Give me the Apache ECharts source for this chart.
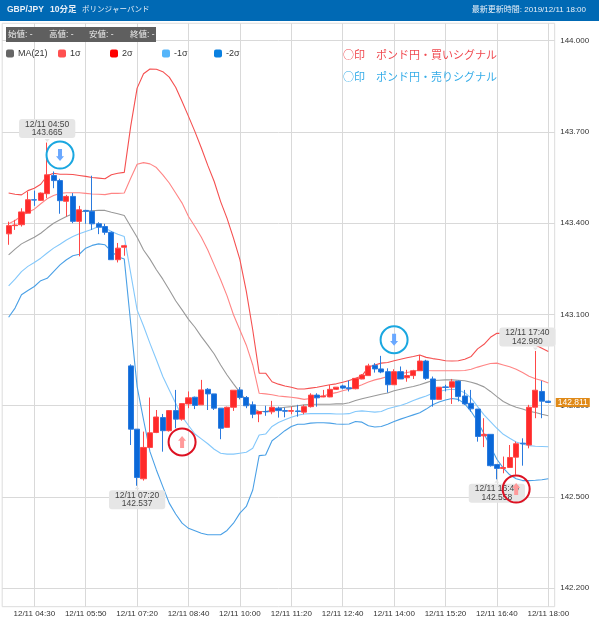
<!DOCTYPE html>
<html><head><meta charset="utf-8">
<style>html,body{margin:0;padding:0;background:#fff}#c{width:599px;height:619px}</style>
<script src="https://cdn.jsdelivr.net/npm/echarts@6/dist/echarts.min.js"></script>
</head><body><div id="c"></div>
<script>
const timeList=['03:50','04:00','04:10','04:20','04:30','04:40','04:50','05:00','05:10','05:20','05:30','05:40','05:50','06:00','06:10','06:20','06:30','06:40','06:50','07:10','07:20','07:30','07:40','07:50','08:00','08:10','08:20','08:30','08:40','08:50','09:00','09:10','09:20','09:30','09:40','09:50','10:00','10:10','10:20','10:30','10:40','10:50','11:00','11:10','11:20','11:30','11:40','11:50','12:00','12:10','12:20','12:30','12:40','12:50','13:00','13:10','13:20','13:30','13:40','13:50','14:00','14:10','14:20','14:30','14:40','14:50','15:00','15:10','15:20','15:30','15:40','15:50','16:00','16:10','16:20','16:30','16:40','16:50','17:00','17:10','17:20','17:30','17:40','17:50','18:00'];
const tickLabels=['04:30','05:50','07:20','08:40','10:00','11:20','12:40','14:00','15:20','16:40','18:00'];
const priceTicks=[142.2,142.5,142.8,143.1,143.4,143.7,144.0];
// open, close, low, high
const candles=[[143.365,143.392,143.329,143.405],[143.392,143.394,143.378,143.411],[143.395,143.437,143.389,143.449],[143.433,143.477,143.433,143.504],[143.477,143.476,143.457,143.507],[143.475,143.499,143.473,143.501],[143.497,143.559,143.482,143.665],[143.557,143.540,143.515,143.570],[143.540,143.474,143.431,143.546],[143.472,143.488,143.422,143.493],[143.488,143.406,143.400,143.499],[143.406,143.444,143.291,143.457],[143.442,143.439,143.398,143.444],[143.439,143.398,143.378,143.556],[143.398,143.387,143.364,143.403],[143.389,143.370,143.362,143.398],[143.370,143.280,143.280,143.373],[143.280,143.318,143.271,143.335],[143.321,143.326,143.293,143.329],
[142.931,142.723,142.671,142.936],[142.723,142.564,142.537,142.723],[142.560,142.663,142.554,142.715],[142.663,142.711,142.660,142.827],[142.712,142.763,142.710,142.786],[142.761,142.718,142.649,142.773],[142.718,142.784,142.715,142.786],[142.784,142.756,142.726,142.852],[142.756,142.807,142.751,142.808],[142.806,142.826,142.792,142.847],[142.828,142.801,142.789,142.830],[142.803,142.852,142.803,142.885],[142.854,142.839,142.786,142.858],[142.839,142.792,142.786,142.839],[142.792,142.726,142.690,142.792],[142.729,142.795,142.728,142.797],[142.795,142.851,142.783,142.851],[142.852,142.827,142.821,142.861],[142.827,142.800,142.792,142.832],[142.803,142.772,142.759,142.814],[142.773,142.781,142.746,142.781],[142.781,142.780,142.767,142.800],[142.780,142.795,142.772,142.816],[142.792,142.784,142.761,142.797],[142.784,142.782,142.762,142.794],[142.782,142.784,142.772,142.797],[142.783,142.781,142.764,142.803],[142.779,142.797,142.772,142.803],[142.797,142.835,142.794,142.841],[142.835,142.826,142.797,142.841],[142.829,142.832,142.828,142.852],[142.829,142.854,142.828,142.868],[142.854,142.861,142.852,142.861],[142.865,142.858,142.854,142.869],[142.859,142.856,142.847,142.883],[142.856,142.890,142.854,142.890],[142.888,142.901,142.887,142.904],[142.899,142.931,142.898,142.938],[142.933,142.921,142.909,142.940],[142.921,142.911,142.907,142.964],[142.912,142.869,142.843,142.923],[142.869,142.912,142.869,142.920],[142.912,142.888,142.888,142.929],[142.892,142.899,142.879,142.918],[142.899,142.915,142.888,142.918],[142.915,142.947,142.915,142.967],[142.947,142.890,142.885,142.951],[142.888,142.821,142.797,142.896],[142.821,142.861,142.821,142.861],[142.862,142.860,142.847,142.869],[142.861,142.879,142.806,142.888],[142.881,142.830,142.814,142.883],[142.832,142.806,142.803,142.852],[142.808,142.790,142.781,142.852],[142.789,142.699,142.682,142.789],[142.701,142.706,142.664,142.759],[142.706,142.603,142.600,142.706],[142.607,142.594,142.558,142.607],[142.594,142.597,142.578,142.633],[142.597,142.630,142.597,142.671],[142.631,142.675,142.573,142.682],[142.677,142.675,142.603,142.693],[142.671,142.795,142.660,142.803],[142.795,142.851,142.759,142.980],[142.847,142.815,142.759,142.882],[142.815,142.811,142.810,142.817]];
const ma=[143.296,143.315,143.332,143.343,143.354,143.367,143.384,143.400,143.411,143.422,143.431,143.437,143.440,143.441,143.442,143.442,143.436,143.431,143.425,143.389,143.354,143.312,143.282,143.247,143.216,143.181,143.145,143.115,143.084,143.058,143.027,142.999,142.970,142.934,142.901,142.872,142.844,142.817,142.792,142.781,142.781,142.786,142.792,142.795,142.797,142.800,142.803,142.804,142.805,142.805,142.805,142.806,142.806,142.810,142.817,142.823,142.828,142.833,142.838,142.842,142.849,142.854,142.859,142.863,142.869,142.876,142.883,142.884,142.885,142.885,142.884,142.882,142.877,142.871,142.862,142.847,142.830,142.814,142.803,142.795,142.789,142.782,142.778,142.772,142.767];
const plus1=[143.398,143.409,143.424,143.436,143.446,143.464,143.480,143.491,143.498,143.500,143.500,143.500,143.498,143.496,143.495,143.494,143.498,143.498,143.499,143.548,143.594,143.599,143.595,143.583,143.559,143.532,143.499,143.466,143.422,143.389,143.354,143.312,143.263,143.214,143.161,143.099,143.049,142.999,142.934,142.841,142.839,142.836,142.832,142.830,142.828,142.825,142.821,142.824,142.828,142.832,142.839,142.843,142.849,142.854,142.861,142.869,142.878,142.885,142.890,142.896,142.901,142.905,142.909,142.913,142.918,142.916,142.915,142.915,142.915,142.915,142.915,142.916,142.920,142.927,142.933,142.939,142.940,142.934,142.928,142.920,142.909,142.897,142.889,142.883,142.875];
const plus2=[143.499,143.495,143.493,143.507,143.515,143.528,143.556,143.564,143.561,143.561,143.560,143.557,143.554,143.550,143.548,143.546,143.559,143.564,143.567,143.718,143.844,143.891,143.907,143.906,143.898,143.880,143.847,143.800,143.751,143.701,143.647,143.590,143.537,143.471,143.416,143.351,143.280,143.176,143.049,142.907,142.907,142.879,142.871,142.865,142.861,142.855,142.855,142.858,142.861,142.865,142.869,142.872,142.877,142.883,142.890,142.898,142.927,142.934,142.940,142.942,142.948,142.953,142.958,142.962,142.967,142.959,142.955,142.952,142.948,142.947,142.948,142.953,142.962,142.987,143.002,143.025,143.038,143.038,143.033,143.027,143.020,143.011,143.000,142.989,142.978];
const minus1=[143.194,143.216,143.241,143.258,143.271,143.285,143.302,143.318,143.331,143.345,143.356,143.365,143.373,143.380,143.389,143.384,143.373,143.364,143.356,143.236,143.115,143.062,143.005,142.951,142.896,142.852,142.808,142.764,142.735,142.707,142.691,142.675,142.657,142.644,142.641,142.641,142.644,142.647,142.660,142.704,142.707,142.732,142.745,142.754,142.762,142.769,142.773,142.774,142.774,142.774,142.774,142.773,142.773,142.774,142.781,142.783,142.781,142.779,142.781,142.790,142.796,142.801,142.808,142.817,142.825,142.832,142.841,142.847,142.852,142.854,142.852,142.843,142.825,142.797,142.770,142.748,142.726,142.706,142.693,142.681,142.674,142.669,142.667,142.666,142.665];
const minus2=[143.091,143.121,143.165,143.179,143.192,143.211,143.219,143.241,143.263,143.280,143.293,143.298,143.318,143.327,143.332,143.329,143.307,143.290,143.282,143.071,142.863,142.754,142.649,142.589,142.534,142.480,142.444,142.414,142.397,142.389,142.381,142.376,142.376,142.376,142.390,142.414,142.447,142.469,142.523,142.636,142.638,142.685,142.701,142.718,142.732,142.739,142.739,142.743,142.744,142.744,142.743,142.740,142.739,142.740,142.748,142.746,142.734,142.730,142.732,142.739,142.748,142.756,142.763,142.770,142.777,142.789,142.803,142.812,142.819,142.824,142.821,142.806,142.781,142.748,142.708,142.666,142.624,142.595,142.573,142.560,142.554,142.554,142.555,142.557,142.560];
const latest=['18:00',142.811];
const highCallouts=[['04:50',143.665],['17:40',142.980]];
const lowCallouts=[['07:20',142.537],['16:40',142.558]];
const sellSignals=[['05:10',143.624],['14:00',143.017]];
const buySignals=[['08:30',142.681],['17:10',142.526]];

const UI='"Liberation Sans","Noto Sans CJK JP",sans-serif';
const AX='"Liberation Sans Narrow","Liberation Sans",sans-serif';
const cats=['',...timeList.map(t=>'12/11 '+t),''];
const idx=t=>timeList.indexOf(t)+1;
const pad=a=>[null,...a,null];
const isTick=(i,v)=>tickLabels.includes(String(v).slice(6));
const line=(name,data,color,w)=>({name,type:'line',data:pad(data),showSymbol:false,symbol:'none',smooth:false,
  lineStyle:{color,width:w},itemStyle:{color},z:3,silent:true});
const leg=(name,left,color)=>({left,top:49,itemWidth:8,itemHeight:8,itemGap:2,padding:0,selectedMode:false,
  data:[{name,icon:'roundRect',itemStyle:{color,borderWidth:0},lineStyle:{width:0}}],
  textStyle:{fontFamily:AX,fontSize:9,color:'#333',padding:[0,0,0,-1]}});
const upArrow='path://M3,0 L7,4 L5,4 L5,10 L1,10 L1,4 L-1,4 Z';
const downArrow='path://M1,0 L5,0 L5,6 L7,6 L3,10 L-1,6 L1,6 Z';
const ring=(data,color)=>({type:'scatter',data:data.map(d=>[idx(d[0]),d[1]]),symbol:'circle',symbolSize:27,clip:false,
  itemStyle:{color:'rgba(0,0,0,0)',borderColor:color,borderWidth:2,opacity:1},z:8,silent:true});
const arrow=(data,path,color)=>({type:'scatter',data:data.map(d=>[idx(d[0]),d[1]]),symbol:path,symbolSize:[8,12],clip:false,
  itemStyle:{color,opacity:1},z:8,silent:true});
const callout=(data,pos,offs)=>({type:'scatter',z:7,silent:true,clip:false,symbol:'triangle',symbolSize:[5,3],
  symbolRotate:pos==='top'?180:0,symbolOffset:[0,pos==='top'?-2:2],itemStyle:{color:'#e6e6e6',opacity:1},
  data:data.map((d,i)=>({value:[idx(d[0]),d[1]],label:{offset:offs[i]}})),
  label:{show:true,position:pos,distance:1,formatter:p=>cats[p.value[0]]+'\n'+p.value[1].toFixed(3),
    backgroundColor:'#e6e6e6',borderRadius:3,padding:[1,6,1,6],color:'#444',fontFamily:AX,fontSize:8.5,lineHeight:8.5,align:'center'}});

const chart=echarts.init(document.getElementById('c'),null,{renderer:'canvas'});
chart.setOption({animation:false,backgroundColor:'#fff',
 grid:{left:2.2,right:44.3,top:23.3,bottom:12.3,show:true,borderColor:'#dcdcdc',borderWidth:1,containLabel:false},
 legend:[leg('MA(21)',6,'#666666'),leg('1σ',58,'#ff5050'),leg('2σ',110,'#ff0000'),leg('-1σ',162,'#55b5fa'),leg('-2σ',214,'#0a80e0')],
 xAxis:{type:'category',data:cats,boundaryGap:false,
  axisLine:{show:false},axisTick:{show:false},
  splitLine:{show:true,interval:isTick,lineStyle:{color:'#d9d9d9',width:1}},
  axisLabel:{interval:isTick,margin:3,color:'#333',fontFamily:AX,fontSize:8,hideOverlap:false,formatter:v=>v}},
 yAxis:{type:'value',position:'right',min:142.1395,max:144.057,scale:true,
  axisLine:{show:false},axisTick:{show:false,customValues:priceTicks},
  splitLine:{show:true,lineStyle:{color:'#d9d9d9',width:1}},
  axisLabel:{customValues:priceTicks,margin:5.5,color:'#333',fontFamily:AX,fontSize:8,formatter:v=>v.toFixed(3)}},
 series:[
  line('MA(21)',ma,'#999999',1.1),line('1σ',plus1,'#ff8585',1.1),line('2σ',plus2,'#f55050',1.1),
  line('-1σ',minus1,'#84c8fb',1.1),line('-2σ',minus2,'#4aa0e6',1.1),
  {type:'candlestick',data:[['-','-','-','-'],...candles,['-','-','-','-']],barWidth:5.6,z:4,silent:true,
   itemStyle:{color:'#ff2a2a',color0:'#0a68d8',borderColor:'#ff4848',borderColor0:'#2a7ade',borderWidth:1}},
  {type:'scatter',z:9,silent:true,clip:false,symbol:'circle',symbolSize:1,itemStyle:{color:'#0a68d8',opacity:1},
   data:[[idx(latest[0]),latest[1]]],
   label:{show:true,position:'right',distance:7,offset:[17,0],formatter:p=>p.value[1].toFixed(3),backgroundColor:'#e08a18',color:'#fff',
    fontFamily:AX,fontSize:8.5,width:34,height:9,lineHeight:9,align:'center',padding:0}},
  callout(highCallouts,'top',[[0,0],[-8,0]]),callout(lowCallouts,'bottom',[[0,0],[0,0]]),
  ring(sellSignals,'#1aa7e0'),ring(buySignals,'#dd1122'),
  arrow(sellSignals,downArrow,'#6aa8ff'),arrow(buySignals,upArrow,'#ff9a9a')
 ],
 graphic:[
  {type:'rect',z:0,shape:{x:0,y:0,width:599,height:21},style:{fill:'#0069b4'}},
  {type:'text',z:1,x:7,y:10,style:{text:'GBP/JPY',fill:'#e8f0f8',verticalAlign:'middle',font:'bold 8.5px '+UI}},
  {type:'text',z:1,x:50,y:10,style:{text:'10分足',fill:'#e8f0f8',verticalAlign:'middle',font:'bold 8.5px '+UI}},
  {type:'text',z:1,x:82,y:10,style:{text:'ボリンジャーバンド',fill:'#e8f0f8',verticalAlign:'middle',font:'7.5px '+UI}},
  {type:'text',z:1,x:586,y:10,style:{text:'最新更新時間: 2019/12/11 18:00',align:'right',verticalAlign:'middle',fill:'#e8f0f8',font:'8px '+UI}},
  {type:'rect',z:5,shape:{x:6,y:27,width:150,height:15},style:{fill:'#5f5f5f'}},
  {type:'text',z:6,x:8,y:34.5,style:{text:'始値: -',fill:'#eee',verticalAlign:'middle',font:'8.5px '+UI}},
  {type:'text',z:6,x:49,y:34.5,style:{text:'高値: -',fill:'#eee',verticalAlign:'middle',font:'8.5px '+UI}},
  {type:'text',z:6,x:89,y:34.5,style:{text:'安値: -',fill:'#eee',verticalAlign:'middle',font:'8.5px '+UI}},
  {type:'text',z:6,x:130,y:34.5,style:{text:'終値: -',fill:'#eee',verticalAlign:'middle',font:'8.5px '+UI}},
  {type:'text',z:6,x:343,y:49,style:{text:'○印　ポンド円・買いシグナル',fill:'#f04a50',font:'11px "Noto Sans CJK JP",sans-serif'}},
  {type:'text',z:6,x:343,y:71,style:{text:'○印　ポンド円・売りシグナル',fill:'#35ace8',font:'11px "Noto Sans CJK JP",sans-serif'}}
 ]
});
</script></body></html>
